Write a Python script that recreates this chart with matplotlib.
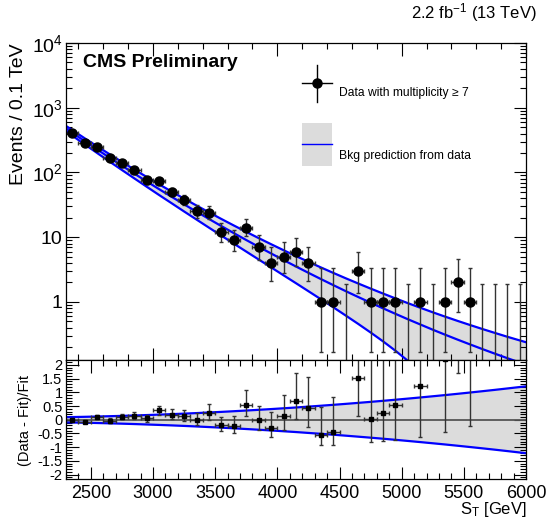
import numpy as np
import matplotlib
matplotlib.use("Agg")
import matplotlib.pyplot as plt
from matplotlib.ticker import FixedLocator, FixedFormatter, MultipleLocator, LogLocator, NullFormatter

plt.rcParams["font.family"] = ["Liberation Sans", "DejaVu Sans"]
plt.rcParams["mathtext.fontset"] = "custom"
plt.rcParams["mathtext.rm"] = "Liberation Sans"
plt.rcParams["mathtext.it"] = "Liberation Sans:italic"
plt.rcParams["mathtext.bf"] = "Liberation Sans:bold"

# 100 GeV bins from 2300 to 6000 GeV
bin_centers = np.arange(2350, 6000, 100)
counts = [412, 285, 250, 165, 142, 110, 76, 74, 50, 37, 25, 24,
          12, 9, 14, 7, 4, 5, 6, 4, 1, 1, 0, 3, 1, 1, 1, 0, 1, 0,
          1, 2, 1, 0, 0, 0, 0]

# background fit: range edges + bin centres
fit_x = [2300] + list(bin_centers) + [6000]
fit_y = [478.6, 411.6, 305.0, 227.0, 169.6, 127.3, 95.9, 72.6, 55.1, 42.1,
         32.2, 24.8, 19.15, 14.85, 11.57, 9.05, 7.11, 5.61, 4.44, 3.53,
         2.82, 2.26, 1.82, 1.47, 1.195, 0.974, 0.798, 0.656, 0.541, 0.449,
         0.373, 0.312, 0.262, 0.221, 0.187, 0.159, 0.1354, 0.1161, 0.1076]
# relative half width of the fit uncertainty band
band_r = [0.095, 0.099, 0.108, 0.118, 0.130, 0.142, 0.156, 0.172, 0.188, 0.205,
          0.224, 0.244, 0.266, 0.288, 0.312, 0.337, 0.363, 0.390, 0.419, 0.448,
          0.480, 0.512, 0.545, 0.580, 0.616, 0.653, 0.691, 0.731, 0.772, 0.814,
          0.857, 0.901, 0.947, 0.994, 1.042, 1.091, 1.142, 1.194, 1.220]

ratio_ticks = [-2, -1.5, -1, -0.5, 0, 0.5, 1, 1.5, 2]
ratio_labels = ["-2", "-1.5", "-1", "-0.5", "0", "0.5", "1", "1.5", "2"]

BLUE = "#0000ff"
BAND = "#dcdcdc"
ECOL = "#333333"

W, H = 547, 526
fig = plt.figure(figsize=(W / 100, H / 100), dpi=100)


def axes_px(left, top, right, bottom):
    return fig.add_axes([left / W, 1 - bottom / H, (right - left) / W, (bottom - top) / H])


ax = axes_px(66, 43, 526, 360)
rax = axes_px(66, 360, 526, 479)

counts = np.array(counts, dtype=float)
fit_x = np.array(fit_x, dtype=float)
fit_y = np.array(fit_y)
band_r = np.array(band_r)
nz = counts > 0

# Poisson (Gehrels) intervals
n_safe = np.where(nz, counts, 1.0)
err_hi = np.sqrt(counts + 0.75) + 1
err_lo = np.where(nz, n_safe - n_safe * (1 - 1 / (9 * n_safe) - 1 / (3 * np.sqrt(n_safe))) ** 3, 0.0)

# ---- top panel
up = fit_y * (1 + band_r)
lo = np.clip(fit_y * (1 - band_r), 1e-3, None)
ax.fill_between(fit_x, lo, up, color=BAND, lw=0)
for curve in (up, fit_y, lo):
    ax.plot(fit_x, curve, color=BLUE, lw=1.6)

ax.errorbar(bin_centers[nz], counts[nz], yerr=[err_lo[nz], err_hi[nz]], xerr=50,
            fmt="o", ms=6.5, mfc="black", mec="black", ecolor=ECOL,
            elinewidth=1, capsize=1.5, capthick=1)
zx = bin_centers[~nz]
zh = err_hi[~nz]
ax.errorbar(zx, zh, yerr=[zh - 1e-3, np.zeros_like(zh)], fmt="none",
            ecolor=ECOL, elinewidth=1, capsize=1.5, capthick=1)

ax.set_xlim(2300, 6000)
ax.set_yscale("log")
ax.set_ylim(0.127, 1e4)
ax.yaxis.set_major_locator(FixedLocator([1, 10, 100, 1000, 10000]))
ax.yaxis.set_major_formatter(FixedFormatter(["1", "10", "$10^{2}$", "$10^{3}$", "$10^{4}$"]))
ax.yaxis.set_minor_locator(LogLocator(base=10, subs=np.arange(2, 10), numticks=20))
ax.yaxis.set_minor_formatter(NullFormatter())
ax.xaxis.set_major_locator(MultipleLocator(1000))
ax.xaxis.set_minor_locator(MultipleLocator(200))
ax.tick_params(which="both", direction="in", top=True, right=True, labelbottom=False,
               width=0.8)
ax.tick_params(which="major", length=9, labelsize=14, pad=2.5)
ax.tick_params(which="minor", length=4.5)

# legend drawn by hand
tA = ax.transAxes
ax.plot([0.513, 0.578], [0.874, 0.874], color="black", lw=1, transform=tA, clip_on=False)
ax.plot([0.5457, 0.5457], [0.814, 0.931], color="black", lw=1, transform=tA, clip_on=False)
ax.plot([0.5457], [0.874], "o", ms=6.5, color="black", transform=tA, clip_on=False)
ax.text(0.5935, 0.842, "Data with multiplicity \u2265 7", fontsize=8.7, va="center",
        transform=tA)
ax.add_patch(plt.Rectangle((0.513, 0.612), 0.065, 0.136, color=BAND, lw=0, transform=tA))
ax.plot([0.513, 0.578], [0.681, 0.681], color=BLUE, lw=1, transform=tA)
ax.text(0.5935, 0.645, "Bkg prediction from data", fontsize=8.7, va="center",
        transform=tA)

# ---- ratio panel
fit_c = fit_y[1:-1]
ratio = (counts - fit_c) / fit_c
rax.fill_between(fit_x, -band_r, band_r, color=BAND, lw=0)
rax.plot(fit_x, band_r, color=BLUE, lw=1.6)
rax.plot(fit_x, -band_r, color=BLUE, lw=1.6)
rax.axhline(0, color="#555555", lw=1.3)
rax.errorbar(bin_centers[nz], ratio[nz], yerr=[err_lo[nz] / fit_c[nz], err_hi[nz] / fit_c[nz]],
             xerr=50, fmt="s", ms=3.5, mfc="black", mec="black", ecolor=ECOL,
             elinewidth=1, capsize=1.5, capthick=1)

rax.set_xlim(2300, 6000)
rax.set_ylim(-2.16, 2.18)
rax.yaxis.set_major_locator(FixedLocator(ratio_ticks))
rax.yaxis.set_major_formatter(FixedFormatter(ratio_labels))
rax.yaxis.set_minor_locator(MultipleLocator(0.1))
rax.xaxis.set_major_locator(MultipleLocator(500))
rax.xaxis.set_minor_locator(MultipleLocator(100))
rax.tick_params(which="both", direction="in", top=True, right=True, width=0.8)
rax.tick_params(which="major", length=9, pad=2.5)
rax.tick_params(which="minor", length=4.5)
rax.tick_params(axis="y", labelsize=10.5)
rax.tick_params(axis="x", labelsize=13, pad=4)

for a in (ax, rax):
    for s in a.spines.values():
        s.set_linewidth(0.9)

# ---- texts
fig.text(83 / W, 1 - 67 / H, "CMS Preliminary", fontsize=14, fontweight="bold",
         va="baseline")
fig.text(537 / W, 1 - 18 / H, "2.2 fb$^{-1}$ (13 TeV)", fontsize=12, ha="right",
         va="baseline")
fig.text(19 / W, 1 - 43 / H, "Events / 0.1 TeV", rotation=90, ha="center", va="top",
         fontsize=14)
fig.text(25 / W, 1 - 421 / H, "(Data - Fit)/Fit", rotation=90, ha="center",
         va="center", fontsize=10.5)
fig.text(527 / W, 1 - 500 / H, "S$_{\\mathrm{T}}$ [GeV]", ha="right", va="top",
         fontsize=12)

fig.savefig("out.png", dpi=100)
